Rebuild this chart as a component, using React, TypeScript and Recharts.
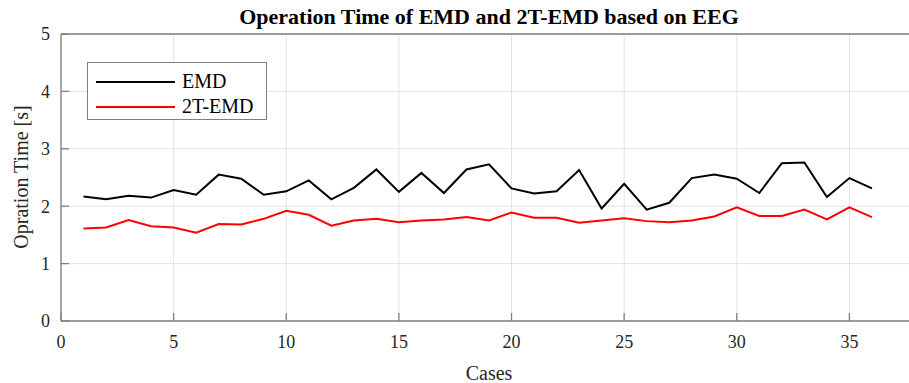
import React from "react";
import {
  LineChart,
  Line,
  XAxis,
  YAxis,
  CartesianGrid,
  Legend,
} from "recharts";

const cases = [
  1, 2, 3, 4, 5, 6, 7, 8, 9, 10, 11, 12, 13, 14, 15, 16, 17, 18, 19, 20, 21,
  22, 23, 24, 25, 26, 27, 28, 29, 30, 31, 32, 33, 34, 35, 36,
];

const emd = [
  2.17, 2.12, 2.18, 2.15, 2.28, 2.2, 2.55, 2.48, 2.2, 2.26, 2.45, 2.12, 2.32,
  2.64, 2.25, 2.58, 2.23, 2.64, 2.73, 2.31, 2.22, 2.26, 2.63, 1.96, 2.39, 1.94,
  2.06, 2.49, 2.55, 2.48, 2.23, 2.75, 2.76, 2.16, 2.49, 2.31,
];

const emd2t = [
  1.61, 1.63, 1.76, 1.65, 1.63, 1.54, 1.69, 1.68, 1.78, 1.92, 1.85, 1.66, 1.75,
  1.78, 1.72, 1.75, 1.77, 1.81, 1.75, 1.89, 1.8, 1.8, 1.71, 1.75, 1.79, 1.74,
  1.72, 1.75, 1.82, 1.98, 1.83, 1.83, 1.94, 1.77, 1.98, 1.81,
];

const seriesNames = ["EMD", "2T-EMD"];

const xTicks = [0, 5, 10, 15, 20, 25, 30, 35];
const yTicks = [0, 1, 2, 3, 4, 5];

const title = "Operation Time of EMD and 2T-EMD based on EEG";
const xLabel = "Cases";
const yLabel = "Opration Time [s]";

const data = cases.map((c, i) => ({
  case: c,
  emd: emd[i],
  emd2t: emd2t[i],
}));

const font = "'Liberation Serif', 'Times New Roman', serif";
const axisColor = "#7f7f7f";

const XTick = (p: any) => (
  <text
    x={p.x}
    y={p.y}
    dy="0.71em"
    textAnchor="middle"
    fill="#262626"
    style={{ fontFamily: font, fontSize: 18 }}
  >
    {p.payload.value}
  </text>
);

const YTick = (p: any) => (
  <text
    x={p.x}
    y={p.y}
    dy="0.355em"
    textAnchor="end"
    fill="#262626"
    style={{ fontFamily: font, fontSize: 18 }}
  >
    {p.payload.value}
  </text>
);

// keep the legend in plotting order (recharts sorts it by name otherwise)
const renderLegend = (props: any) => {
  const items = seriesNames
    .map((n) => props.payload.find((p: any) => p.value === n))
    .filter(Boolean);
  return (
    <div
      style={{
        width: 180,
        height: 58,
        border: `1.5px solid ${axisColor}`,
        background: "#fff",
        boxSizing: "border-box",
        paddingTop: 6,
        fontSize: 20,
        color: "#000",
      }}
    >
      {items.map((entry: any) => (
        <div
          key={entry.value}
          style={{ display: "flex", alignItems: "center", height: 25 }}
        >
          <div
            style={{
              width: 79,
              height: 2,
              background: entry.color,
              marginLeft: 8,
              marginRight: 7,
            }}
          />
          <span>{entry.value}</span>
        </div>
      ))}
    </div>
  );
};

export default function App() {
  return (
    <div
      style={{
        position: "absolute",
        left: 0,
        top: 0,
        width: 909,
        height: 383,
        overflow: "hidden",
        background: "#fff",
        fontFamily: font,
      }}
    >
      <div
        style={{
          position: "absolute",
          left: 489,
          top: 4,
          transform: "translateX(-50%)",
          whiteSpace: "nowrap",
          fontWeight: "bold",
          fontSize: 22,
          color: "#000",
        }}
      >
        {title}
      </div>
      <div
        style={{
          position: "absolute",
          left: 21,
          top: 177,
          transform: "translate(-50%, -50%) rotate(-90deg)",
          whiteSpace: "nowrap",
          fontSize: 20,
          color: "#262626",
        }}
      >
        {yLabel}
      </div>
      <div
        style={{
          position: "absolute",
          left: 489,
          top: 362,
          transform: "translateX(-50%)",
          whiteSpace: "nowrap",
          fontSize: 20,
          color: "#262626",
        }}
      >
        {xLabel}
      </div>
      <LineChart
        width={920}
        height={383}
        data={data}
        margin={{ top: 0, right: 3, bottom: 0, left: 0 }}
        style={{ position: "absolute", left: 0, top: 0 }}
      >
        <CartesianGrid stroke="#e3e3e3" strokeWidth={1} />
        <XAxis
          dataKey="case"
          type="number"
          domain={[0, 38]}
          ticks={xTicks}
          height={62}
          tickSize={-8}
          tickMargin={22}
          tick={<XTick />}
          stroke={axisColor}
          strokeWidth={1.3}
          interval={0}
        />
        <XAxis
          xAxisId="top"
          orientation="top"
          dataKey="case"
          type="number"
          domain={[0, 38]}
          ticks={xTicks}
          height={34}
          tickSize={-8}
          tick={false}
          stroke={axisColor}
          strokeWidth={1.3}
        />
        <YAxis
          type="number"
          domain={[0, 5]}
          ticks={yTicks}
          width={61}
          tickSize={-8}
          tickMargin={19}
          tick={<YTick />}
          stroke={axisColor}
          strokeWidth={1.3}
          interval={0}
        />
        <Legend
          content={renderLegend}
          layout="vertical"
          align="center"
          verticalAlign="middle"
          wrapperStyle={{ left: 87, top: 62, width: 180 }}
        />
        <Line
          dataKey="emd"
          name="EMD"
          stroke="#000000"
          strokeWidth={2}
          dot={false}
          isAnimationActive={false}
        />
        <Line
          dataKey="emd2t"
          name="2T-EMD"
          stroke="#ff0000"
          strokeWidth={2}
          dot={false}
          isAnimationActive={false}
        />
      </LineChart>
    </div>
  );
}
